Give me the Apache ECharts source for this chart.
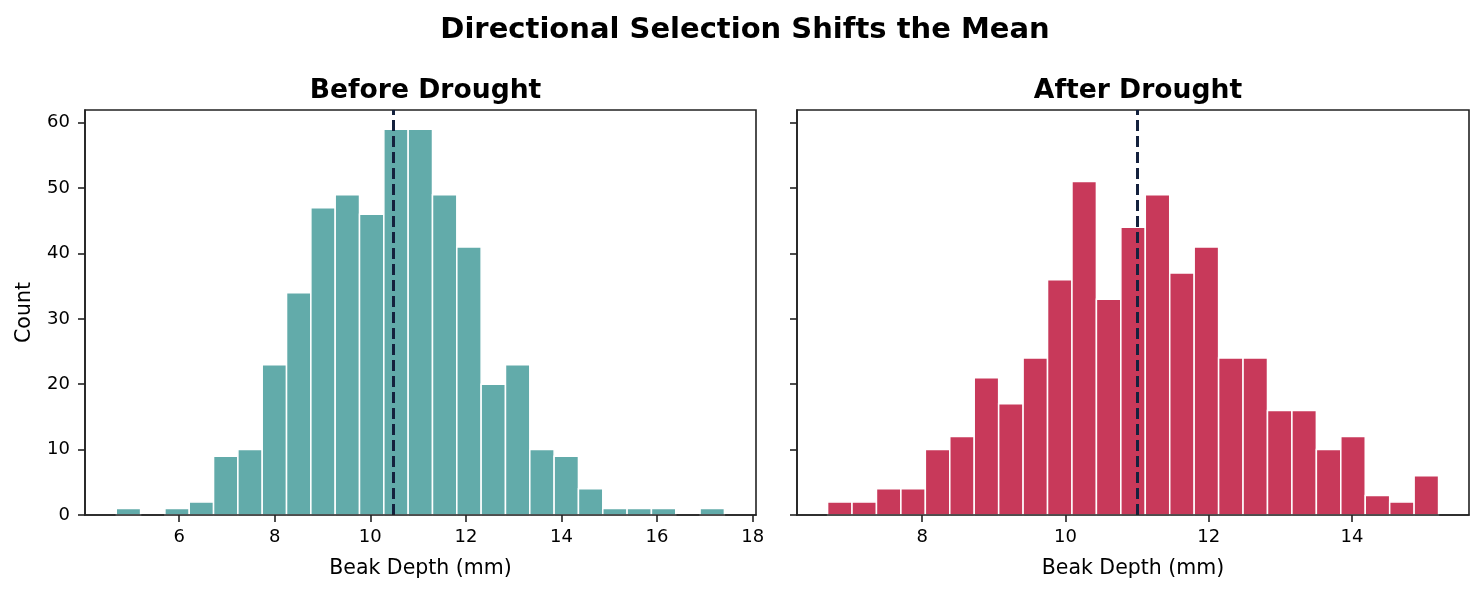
<!DOCTYPE html>
<html>
<head>
<meta charset="utf-8">
<script src="https://cdn.jsdelivr.net/npm/echarts@6/dist/echarts.min.js"></script>
<style>
  html, body { margin: 0; padding: 0; background: #ffffff; }
  #chart { width: 1484px; height: 593px; }
</style>
</head>
<body>
<div id="chart"></div>
<script>
// ---- Data ----
const suptitle = 'Directional Selection Shifts the Mean';
const panelTitles = ['Before Drought', 'After Drought'];
const xLabel = 'Beak Depth (mm)';
const yLabel = 'Count';

// Before drought histogram: 25 bins
const beforeBinStart = 4.684;
const beforeBinWidth = 0.509;
const beforeCounts = [1, 0, 1, 2, 9, 10, 23, 34, 47, 49, 46, 59, 59, 49, 41, 20, 23, 10, 9, 4, 1, 1, 1, 0, 1];
const beforeMean = 10.49;

// After drought histogram: 25 bins
const afterBinStart = 6.68;
const afterBinWidth = 0.3412;
const afterCounts = [2, 2, 4, 4, 10, 12, 21, 17, 24, 36, 51, 33, 44, 49, 37, 41, 24, 24, 16, 16, 10, 12, 3, 2, 6];
const afterMean = 11.0;

// Axis ranges and ticks
const beforeXRange = [4.03, 18.07];
const afterXRange = [6.253, 15.635];
const beforeXTicks = [6, 8, 10, 12, 14, 16, 18];
const afterXTicks = [8, 10, 12, 14];
const yRange = [0, 61.95];
const yTicks = [0, 10, 20, 30, 40, 50, 60];

const beforeColor = '#62abaa';
const afterColor = '#c8395a';
const meanColor = '#14213d';
const FONT = 'DejaVu Sans';
const TXT = '#000000';
const AX = '#222222';

function binsFrom(start, width, counts) {
  return counts.map((c, i) => [start + i * width, start + (i + 1) * width, c]);
}

function makeRender(color) {
  return function (params, api) {
    const x0 = api.value(0), x1 = api.value(1), c = api.value(2);
    if (c <= 0) return null;
    const p0 = api.coord([x0, 0]);
    const p1 = api.coord([x1, c]);
    return {
      type: 'rect',
      shape: { x: p0[0], y: p1[1], width: p1[0] - p0[0], height: p0[1] - p1[1] },
      style: { fill: color, stroke: '#ffffff', lineWidth: 1.5 }
    };
  };
}

function xAxisDef(gridIndex, range, ticks) {
  return {
    type: 'value', gridIndex: gridIndex, min: range[0], max: range[1],
    z: 10,
    name: xLabel, nameLocation: 'middle', nameGap: 43,
    nameTextStyle: { fontFamily: FONT, fontSize: 20.5, color: TXT },
    splitLine: { show: false },
    axisLine: { show: true, onZero: false, lineStyle: { color: AX, width: 1.6 } },
    axisTick: { show: true, length: 7, lineStyle: { color: AX, width: 1.6 }, customValues: ticks },
    axisLabel: { show: true, fontFamily: FONT, fontSize: 18, color: TXT, margin: 13, customValues: ticks }
  };
}

function yAxisDef(gridIndex, showLabels) {
  return {
    type: 'value', gridIndex: gridIndex, min: yRange[0], max: yRange[1],
    z: 10,
    name: showLabels ? yLabel : '', nameLocation: 'middle', nameGap: 50,
    nameTextStyle: { fontFamily: FONT, fontSize: 20.5, color: TXT },
    splitLine: { show: false },
    axisLine: { show: true, onZero: false, lineStyle: { color: AX, width: 1.6 } },
    axisTick: { show: true, length: 7, lineStyle: { color: AX, width: 1.6 }, customValues: yTicks },
    axisLabel: { show: showLabels, fontFamily: FONT, fontSize: 18, color: TXT, margin: 15, customValues: yTicks }
  };
}

function meanLine(x) {
  return {
    silent: true, symbol: 'none', label: { show: false },
    lineStyle: { color: meanColor, width: 3, type: [11, 5] },
    data: [{ xAxis: x }]
  };
}

const chart = echarts.init(document.getElementById('chart'), null, { renderer: 'canvas' });
chart.setOption({
  animation: false,
  backgroundColor: '#ffffff',
  title: [
    { text: suptitle, left: 740, top: 11, textAlign: 'center',
      textStyle: { fontFamily: FONT, fontSize: 29, fontWeight: 'bold', color: TXT } },
    { text: panelTitles[0], left: 420.5, top: 73, textAlign: 'center',
      textStyle: { fontFamily: FONT, fontSize: 26.6, fontWeight: 'bold', color: TXT } },
    { text: panelTitles[1], left: 1133, top: 73, textAlign: 'center',
      textStyle: { fontFamily: FONT, fontSize: 26.6, fontWeight: 'bold', color: TXT } }
  ],
  grid: [
    { left: 85, top: 110, width: 671, height: 405, show: true, borderColor: AX, borderWidth: 1.6, backgroundColor: 'transparent' },
    { left: 797, top: 110, width: 672, height: 405, show: true, borderColor: AX, borderWidth: 1.6, backgroundColor: 'transparent' }
  ],
  xAxis: [
    xAxisDef(0, beforeXRange, beforeXTicks),
    xAxisDef(1, afterXRange, afterXTicks)
  ],
  yAxis: [
    yAxisDef(0, true),
    yAxisDef(1, false)
  ],
  series: [
    {
      type: 'custom', name: panelTitles[0], xAxisIndex: 0, yAxisIndex: 0,
      renderItem: makeRender(beforeColor),
      encode: { x: [0, 1], y: 2 },
      data: binsFrom(beforeBinStart, beforeBinWidth, beforeCounts),
      markLine: meanLine(beforeMean)
    },
    {
      type: 'custom', name: panelTitles[1], xAxisIndex: 1, yAxisIndex: 1,
      renderItem: makeRender(afterColor),
      encode: { x: [0, 1], y: 2 },
      data: binsFrom(afterBinStart, afterBinWidth, afterCounts),
      markLine: meanLine(afterMean)
    }
  ]
});
</script>
</body>
</html>
